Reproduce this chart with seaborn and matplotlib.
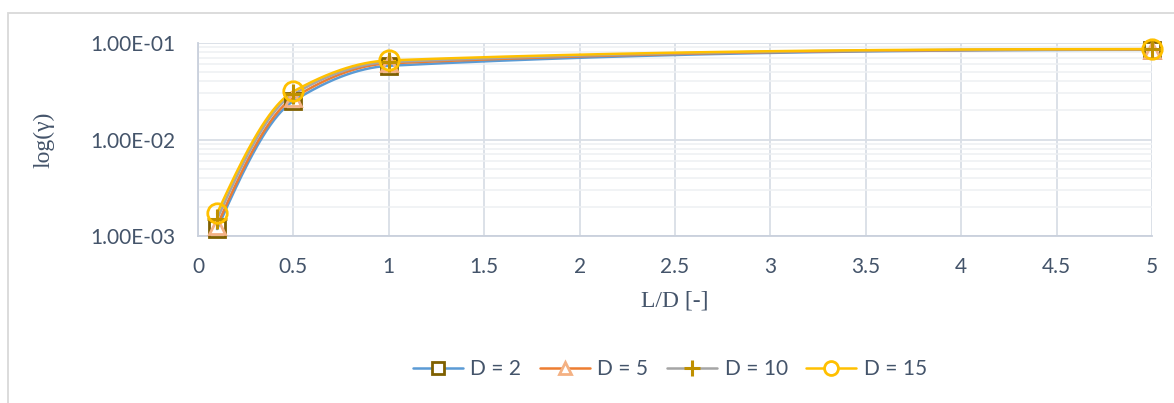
import numpy as np
import pandas as pd
import matplotlib
matplotlib.use("Agg")
import matplotlib.pyplot as plt
from matplotlib.patches import Rectangle
from matplotlib.lines import Line2D
from matplotlib.ticker import FixedLocator, LogLocator, NullFormatter
import seaborn as sns

# ---- data ----
ld_ratio = [0.1, 0.5, 1.0, 5.0]
gamma_d2 = [1.18e-3, 2.50e-2, 5.80e-2, 8.50e-2]
gamma_d5 = [1.28e-3, 2.70e-2, 6.15e-2, 8.55e-2]
gamma_d10 = [1.50e-3, 2.95e-2, 6.35e-2, 8.60e-2]
gamma_d15 = [1.72e-3, 3.15e-2, 6.60e-2, 8.65e-2]
series_labels = ["D = 2", "D = 5", "D = 10", "D = 15"]
x_ticks = [0, 0.5, 1, 1.5, 2, 2.5, 3, 3.5, 4, 4.5, 5]
x_tick_labels = ["0", "0.5", "1", "1.5", "2", "2.5", "3", "3.5", "4", "4.5", "5"]
y_ticks = [1e-3, 1e-2, 1e-1]
y_tick_labels = ["1.00E-03", "1.00E-02", "1.00E-01"]

series_values = [gamma_d2, gamma_d5, gamma_d10, gamma_d15]
line_colors = ["#5B9BD5", "#ED7D31", "#A5A5A5", "#FFC000"]
marker_styles = ["s", "^", "+", "o"]
marker_colors = ["#7F6000", "#F4B183", "#BF9000", "#FFC000"]
marker_sizes = [11, 11, 14, 14]
legend_marker_sizes = [9, 9, 11, 10]


def smooth_curve(xs, ys, n=80):
    """Monotone cubic (Fritsch-Carlson) smoothing in (x, log10 y) space."""
    x = np.asarray(xs, float)
    y = np.log10(np.asarray(ys, float))
    h = np.diff(x)
    d = np.diff(y) / h
    m = np.zeros_like(y)
    for i in range(1, len(y) - 1):
        if d[i - 1] * d[i] <= 0:
            m[i] = 0.0
        else:
            w1 = 2 * h[i] + h[i - 1]
            w2 = h[i] + 2 * h[i - 1]
            m[i] = (w1 + w2) / (w1 / d[i - 1] + w2 / d[i])
    # end slopes (three-point, shape preserving)
    m[0] = ((2 * h[0] + h[1]) * d[0] - h[0] * d[1]) / (h[0] + h[1])
    if np.sign(m[0]) != np.sign(d[0]):
        m[0] = 0
    m[-1] = ((2 * h[-1] + h[-2]) * d[-1] - h[-1] * d[-2]) / (h[-1] + h[-2])
    if np.sign(m[-1]) != np.sign(d[-1]):
        m[-1] = 0
    out_x, out_y = [], []
    for i in range(len(x) - 1):
        t = np.linspace(0, 1, n)
        if i > 0:
            t = t[1:]
        h00 = 2 * t ** 3 - 3 * t ** 2 + 1
        h10 = t ** 3 - 2 * t ** 2 + t
        h01 = -2 * t ** 3 + 3 * t ** 2
        h11 = t ** 3 - t ** 2
        yy = h00 * y[i] + h10 * h[i] * m[i] + h01 * y[i + 1] + h11 * h[i] * m[i + 1]
        out_x.append(x[i] + t * h[i])
        out_y.append(yy)
    return np.concatenate(out_x), 10 ** np.concatenate(out_y)


sns.set_theme(style="white")
plt.rcParams["font.family"] = ["Lato", "DejaVu Sans"]

fig = plt.figure(figsize=(11.74, 4.03), dpi=100)
fig.patch.set_facecolor("white")
ax = fig.add_axes([198 / 1174, 1 - 236 / 403, (1152 - 198) / 1174, (236 - 43) / 403])

# outer chart border
fig.patches.append(Rectangle((8 / 1174, -0.1), 1.2, 1 - 13 / 403 + 0.1,
                             transform=fig.transFigure, fill=False,
                             edgecolor="#D9D9D9", linewidth=1.3, zorder=0))

rows = []
curve_rows = []
for lab, vals in zip(series_labels, series_values):
    for x, y in zip(ld_ratio, vals):
        rows.append({"L/D": x, "gamma": y, "series": lab})
    cx, cy = smooth_curve(ld_ratio, vals)
    for x, y in zip(cx, cy):
        curve_rows.append({"L/D": x, "gamma": y, "series": lab})
points = pd.DataFrame(rows)
curves = pd.DataFrame(curve_rows)

ax.set_yscale("log")
ax.set_xlim(0, 5)
ax.set_ylim(1e-3, 1e-1)

sns.lineplot(data=curves, x="L/D", y="gamma", hue="series",
             palette=dict(zip(series_labels, line_colors)), sort=False,
             estimator=None, linewidth=1.8, legend=False, ax=ax, zorder=3)

for lab, m, mc, ms in zip(series_labels, marker_styles, marker_colors, marker_sizes):
    sub = points[points["series"] == lab]
    if m == "+":
        ax.plot(sub["L/D"], sub["gamma"], linestyle="none", marker=m, markersize=ms,
                markeredgecolor=mc, markeredgewidth=2.2, zorder=5, clip_on=False)
    else:
        ax.plot(sub["L/D"], sub["gamma"], linestyle="none", marker=m, markersize=ms,
                markerfacecolor="none", markeredgecolor=mc, markeredgewidth=2.0,
                zorder=5, clip_on=False)

# grid
ax.xaxis.set_major_locator(FixedLocator(x_ticks))
ax.set_xticklabels(x_tick_labels)
ax.yaxis.set_major_locator(FixedLocator(y_ticks))
ax.set_yticklabels(y_tick_labels)
ax.yaxis.set_minor_locator(LogLocator(base=10, subs=np.arange(2, 10)))
ax.yaxis.set_minor_formatter(NullFormatter())
ax.grid(True, which="major", axis="both", color="#D9DEE6", linewidth=1.3)
ax.grid(True, which="minor", axis="y", color="#EEF0F3", linewidth=1.1)
ax.set_axisbelow(True)
ax.tick_params(axis="both", which="both", length=0)
ax.tick_params(axis="x", labelsize=15, colors="#44546A", pad=15)
ax.tick_params(axis="y", labelsize=15, colors="#44546A", pad=16)

for s in ["top", "right"]:
    ax.spines[s].set_visible(False)
for s in ["left", "bottom"]:
    ax.spines[s].set_color("#C9D0DC")
    ax.spines[s].set_linewidth(1.3)

ax.set_xlabel("L/D [-]", family=["Liberation Serif", "DejaVu Serif"], fontsize=17,
              color="#44546A", labelpad=10)
ax.set_ylabel("log(γ)", family=["Liberation Serif", "DejaVu Serif"], fontsize=17,
              color="#44546A", labelpad=26)

handles = []
for lc, m, mc, ms in zip(line_colors, marker_styles, marker_colors, legend_marker_sizes):
    if m == "+":
        h = Line2D([], [], color=lc, linewidth=1.8, marker=m, markersize=ms,
                   markeredgecolor=mc, markeredgewidth=2.2)
    else:
        h = Line2D([], [], color=lc, linewidth=1.8, marker=m, markersize=ms,
                   markerfacecolor="white", markeredgecolor=mc, markeredgewidth=2.0)
    handles.append(h)
leg = fig.legend(handles, series_labels, loc="center", bbox_to_anchor=(670 / 1174, 1 - 369 / 403),
                 ncol=4, frameon=False, fontsize=15, handlelength=2.4, columnspacing=0.9,
                 handletextpad=0.35)
for t in leg.get_texts():
    t.set_color("#44546A")

fig.savefig("out.png", dpi=100, facecolor="white")
